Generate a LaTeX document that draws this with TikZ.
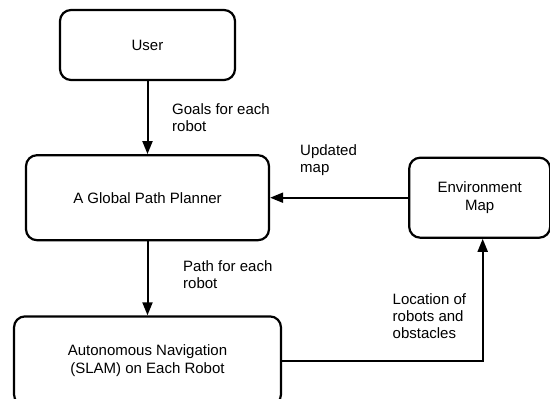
\documentclass[tikz,border=0pt]{standalone}
\usepackage{fontspec}
\setmainfont{Liberation Sans}
\usetikzlibrary{positioning, arrows.meta}

\begin{document}
\begin{tikzpicture}[
        x=1pt, y=-1pt,
        node distance=73pt and 138pt,
        >={Triangle[length=13pt, width=10pt]},
        % Styles
        blockbox/.style={rectangle, draw, line width=2.2pt, rounded corners=11pt,
                align=center, inner sep=0pt, font=\fontsize{15}{18}\selectfont},
        arrow/.style={->, line width=2pt},
        labeltext/.style={anchor=north west, align=left, inner sep=0pt,
                font=\fontsize{15}{17}\selectfont},
    ]
        \useasboundingbox (0,0) rectangle (550,399);

        % === BLOCKS ===
        \node[blockbox, minimum width=175pt, minimum height=70pt] (user) at (147.5,45) {User};
        \node[blockbox, minimum width=243pt, minimum height=85pt, below=73pt of user] (planner) {A Global Path Planner};
        \node[blockbox, minimum width=141pt, minimum height=80pt, right=138pt of planner] (envmap) {Environment\\Map};
        \node[blockbox, minimum width=267pt, minimum height=89pt, below=74pt of planner] (slam) {Autonomous Navigation\\(SLAM) on Each Robot};

        % === CONNECTIONS ===
        \draw[arrow] (user) -- (planner);
        \draw[arrow] (envmap) -- (planner);
        \draw[arrow] (planner) -- (slam);
        \draw[arrow] (slam.east) -| ([xshift=3pt]envmap.south);

        % === LABELS ===
        \node[labeltext] (goals) at (172,103) {Goals for each\\robot};
        \node[labeltext] (updated) at (300,144) {Updated\\map};
        \node[labeltext] (pathlab) at (183,260) {Path for each\\robot};
        \node[labeltext] (location) at (392.5,293) {Location of\\robots and\\obstacles};

\end{tikzpicture}
\end{document}
